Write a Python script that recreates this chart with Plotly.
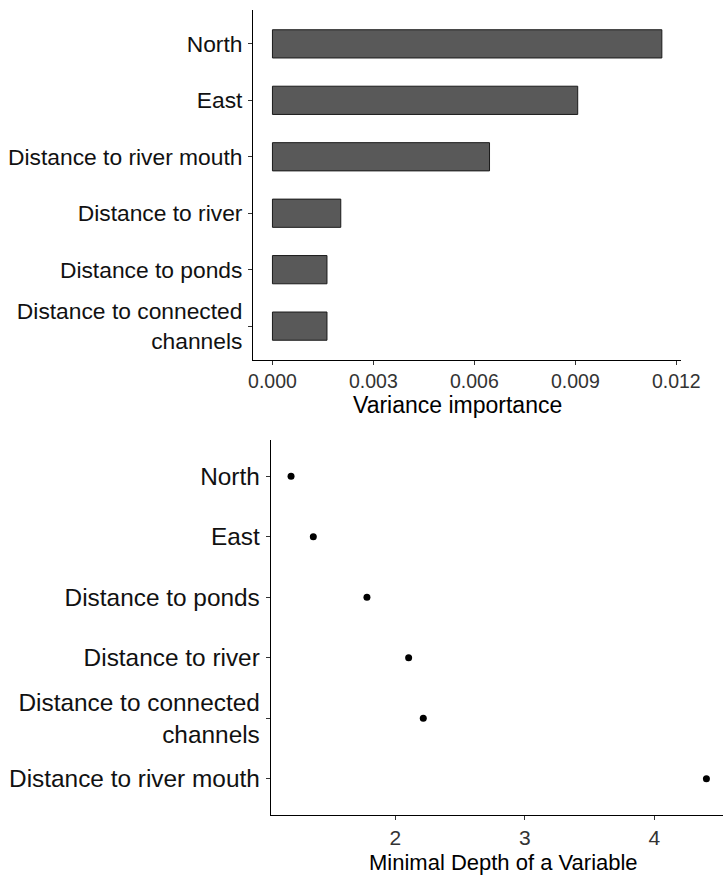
import plotly.graph_objects as go

# Variance importance (top panel), listed top to bottom
vi_vars = ["North", "East", "Distance to river mouth", "Distance to river",
           "Distance to ponds", "Distance to connected<br>channels"]
vi_vals = [0.01157, 0.00907, 0.00645, 0.00203, 0.00162, 0.00162]
vi_tickvals = [0.000, 0.003, 0.006, 0.009, 0.012]
vi_ticktext = ["0.000", "0.003", "0.006", "0.009", "0.012"]
vi_title = "Variance importance"

# Minimal depth (bottom panel), listed top to bottom
md_vars = ["North", "East", "Distance to ponds", "Distance to river",
           "Distance to connected<br>channels", "Distance to river mouth"]
md_vals = [1.195, 1.367, 1.781, 2.103, 2.216, 4.402]
md_tickvals = [2, 3, 4]
md_ticktext = ["2", "3", "4"]
md_title = "Minimal Depth of a Variable"

W, H = 723, 877
FONT = "Liberation Sans, Arial, sans-serif"

fig = go.Figure()
fig.add_trace(go.Bar(
    x=vi_vals, y=vi_vars, orientation="h", width=0.5,
    marker=dict(color="#595959", line=dict(color="#1a1a1a", width=1)),
    xaxis="x", yaxis="y", showlegend=False, hoverinfo="x+y"))
fig.add_trace(go.Scatter(
    x=md_vals, y=md_vars, mode="markers",
    marker=dict(color="black", size=7),
    xaxis="x2", yaxis="y2", showlegend=False))

def px_x(a, b):
    return [a / W, min(b / W, 1.0)]

def px_y(top, bottom):
    return [(H - bottom) / H, (H - top) / H]

axis_common = dict(showline=True, linecolor="black", linewidth=1,
                   ticks="outside", ticklen=4, tickcolor="#333333", tickwidth=1,
                   showgrid=False, zeroline=False, automargin=False)

fig.update_layout(
    width=W, height=H, autosize=False,
    margin=dict(l=0, r=0, t=0, b=0, pad=0),
    paper_bgcolor="white", plot_bgcolor="white",
    font=dict(family=FONT, color="black"),
    xaxis=dict(domain=px_x(253, 680.7), anchor="y",
               range=[-0.000578, 0.01213],
               tickvals=vi_tickvals, ticktext=vi_ticktext,
               tickfont=dict(size=19.5, color="#333333"),
               **axis_common),
    yaxis=dict(domain=px_y(10, 360), anchor="x", type="category",
               categoryorder="array", categoryarray=vi_vars[::-1],
               range=[-0.6, 5.6],
               tickfont=dict(size=22.8, color="#111111"),
               ticklabelstandoff=1,
               **axis_common),
    xaxis2=dict(domain=px_x(270.7, 723), anchor="y2",
                range=[1.038, 4.530],
                tickvals=md_tickvals, ticktext=md_ticktext,
                tickfont=dict(size=21, color="#333333"),
                **axis_common),
    yaxis2=dict(domain=px_y(440, 815), anchor="x2", type="category",
                categoryorder="array", categoryarray=md_vars[::-1],
                range=[-0.6, 5.6],
                tickfont=dict(size=24.4, color="#111111"),
                ticklabelstandoff=1,
                **axis_common),
    annotations=[
        dict(text=vi_title, xref="paper", yref="paper",
             x=457 / W, y=(H - 405) / H, xanchor="center", yanchor="middle",
             showarrow=False, borderpad=0, font=dict(size=23, color="black")),
        dict(text=md_title, xref="paper", yref="paper",
             x=503 / W, y=(H - 862) / H, xanchor="center", yanchor="middle",
             showarrow=False, borderpad=0, font=dict(size=22, color="black")),
    ],
)

fig.write_html(
    "out.html",
    config={"displayModeBar": False},
    post_script="document.body.style.margin='0px';document.body.style.overflow='hidden';",
)
